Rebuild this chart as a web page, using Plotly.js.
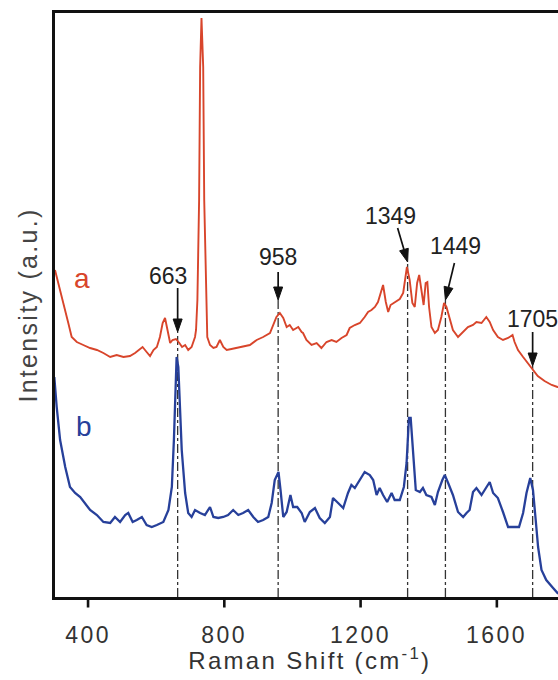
<!DOCTYPE html>
<html>
<head>
<meta charset="utf-8">
<script src="https://cdn.plot.ly/plotly-3.0.1.min.js"></script>
<style>
  html, body { margin: 0; padding: 0; background: #fff; overflow: hidden; width: 558px; height: 680px; }
  #chart { width: 576px; height: 680px; }
  g.annotation[data-index="1"] text, g.annotation[data-index="2"] text,
  g.annotation[data-index="3"] text, g.annotation[data-index="4"] text { letter-spacing: 2.5px; }
  .g-ytitle text, g.annotation[data-index="0"] text { letter-spacing: 2.3px; }
</style>
</head>
<body>
<div id="chart"></div>
<script>
// Raman shift (cm-1) and intensity (a.u., offset spectra)
const redShift = [303,313,328,342,352,367,386,406,426,445,465,484,504,523,538,548,560,572,582,592,602,611,619,626,633,641,648,658,668,676,685,694,704,714,717,721,726,729,733,738,741,746,750,758,768,777,787,797,807,821,836,855,875,895,914,934,943,953,963,973,983,992,1002,1017,1027,1031,1041,1056,1071,1085,1100,1115,1129,1144,1159,1168,1183,1198,1212,1222,1232,1242,1251,1261,1266,1274,1281,1288,1300,1315,1325,1333,1336,1344,1352,1359,1366,1372,1379,1385,1391,1396,1401,1408,1418,1427,1437,1445,1452,1462,1471,1486,1501,1515,1530,1540,1555,1569,1579,1589,1603,1618,1633,1646,1652,1662,1677,1696,1720,1740,1761,1778,1800];
const redIntensity = [327,314,294,274,260,255,252,249,247,244,240,242,240,241,244,247,250,245,241,247,250,260,274,279,267,254,257,258,254,250,252,247,250,260,267,297,397,530,579,530,397,297,260,252,249,250,257,250,247,248,249,250,252,257,260,264,272,280,284,279,270,272,267,270,265,264,257,252,254,249,255,257,255,259,262,269,272,274,280,285,287,290,295,307,312,295,285,292,295,298,304,324,330,317,294,290,314,322,304,292,314,315,290,270,264,267,280,294,290,277,267,260,265,270,272,275,274,280,275,267,260,257,259,262,255,247,240,232,221,216,212,210,208];

const blueShift = [301,308,318,333,347,362,377,391,406,426,445,465,479,494,509,518,531,543,558,572,587,602,621,636,646,652,657,660,665,670,675,685,694,704,714,729,743,758,768,782,797,811,826,841,855,870,885,899,914,929,939,948,959,965,973,983,994,1002,1014,1027,1036,1051,1066,1080,1095,1110,1119,1134,1149,1163,1173,1183,1198,1212,1227,1237,1247,1256,1266,1278,1291,1300,1315,1327,1335,1339,1342,1347,1352,1356,1362,1374,1383,1393,1408,1418,1427,1440,1447,1457,1471,1486,1501,1511,1520,1530,1540,1555,1569,1579,1589,1603,1618,1633,1647,1665,1677,1687,1698,1706,1714,1721,1731,1745,1765,1778,1800];
const blueIntensity = [220,190,157,130,110,104,100,94,87,82,75,74,80,75,82,84,75,77,80,72,70,72,75,87,110,157,207,240,230,190,147,104,84,80,87,84,82,90,80,79,80,82,87,82,84,87,80,75,77,80,94,117,125,107,80,85,102,90,90,84,75,85,89,79,74,80,99,94,89,104,112,109,117,125,122,117,102,109,102,95,104,97,97,110,134,159,179,179,154,130,107,105,109,102,100,92,105,117,122,114,102,85,80,84,87,105,109,102,109,115,104,99,85,70,70,70,84,104,119,107,77,50,27,17,9,4,1];

// Marked bands: label, position of the marker line, intensity of the arrow tip
const peakLabels = ['663','958','1349','1449','1705'];
const peakShift = [663, 958, 1338, 1449, 1705];
const peakTip = [265, 297, 335, 297, 231];

const tickValues = [400, 800, 1200, 1600];
const tickLabels = ['400', '800', '1200', '1600'];
const seriesNames = ['a', 'b'];

const RED = '#d8452b';
const BLUE = '#27409a';
const FONT = 'Liberation Sans';

// arrow tail offsets (px, +y up) and label offsets (px) relative to arrow tips
const arrowTail = [[0,44],[0,28],[-10,34],[9,37],[0,34]];
const labelShift = [[-10,56],[0,43],[-17,46],[10,54],[0,47]];

const traces = [
  {x: redShift, y: redIntensity, type: 'scatter', mode: 'lines', name: seriesNames[0],
   line: {color: RED, width: 1.9}, hoverinfo: 'skip'},
  {x: blueShift, y: blueIntensity, type: 'scatter', mode: 'lines', name: seriesNames[1],
   line: {color: BLUE, width: 2.3}, hoverinfo: 'skip'}
];

const shapes = [];
peakShift.forEach((p, i) => {
  // dash-dot marker line
  shapes.push({type: 'line', xref: 'x', yref: 'y', x0: p, x1: p, y0: 0, y1: peakTip[i],
    line: {color: '#333', width: 1.3, dash: 'dashdot'}, layer: 'below'});
  // arrow shaft + head in pixel units anchored at the tip
  const tx = arrowTail[i][0], ty = arrowTail[i][1];
  const L = Math.hypot(tx, ty), ux = tx / L, uy = ty / L;   // unit vector tip->tail
  const hl = 13, hw = 4.5;                                  // head length / half width
  const bx = ux * hl, by = uy * hl;
  const px = -uy * hw, py = ux * hw;
  shapes.push({type: 'path', xref: 'x', yref: 'y', xsizemode: 'pixel', ysizemode: 'pixel',
    xanchor: p, yanchor: peakTip[i],
    path: `M ${tx},${ty} L ${bx},${by}`, line: {color: '#111', width: 1.7}});
  shapes.push({type: 'path', xref: 'x', yref: 'y', xsizemode: 'pixel', ysizemode: 'pixel',
    xanchor: p, yanchor: peakTip[i],
    path: `M 0,0 L ${bx + px},${by + py} L ${bx - px},${by - py} Z`,
    line: {color: '#111', width: 1}, fillcolor: '#111'});
});

const annotations = [
  // x-axis title (index 0)
  {x: 0.5, y: -0.107, xref: 'paper', yref: 'paper', text: 'Raman Shift (cm<sup>-1</sup>)',
   showarrow: false, xanchor: 'center', yanchor: 'middle',
   font: {family: FONT, size: 24, color: '#333'}}
];
// tick labels (indices 1-4), placed on the x scale
tickValues.forEach((v, i) => {
  annotations.push({x: v, y: -0.065, xref: 'x', yref: 'paper', text: tickLabels[i],
    showarrow: false, xanchor: 'center', yanchor: 'middle',
    font: {family: FONT, size: 23, color: '#333'}});
});
// outside tick marks
tickValues.forEach(v => {
  annotations.push({x: v, y: 0, xref: 'x', yref: 'paper', text: '',
    showarrow: true, arrowhead: 0, arrowwidth: 2.6, arrowcolor: '#111',
    ax: 0, ay: 12, standoff: 0});
});
peakShift.forEach((p, i) => {
  annotations.push({x: p, y: peakTip[i], xref: 'x', yref: 'y', text: peakLabels[i],
    showarrow: false, xshift: labelShift[i][0], yshift: labelShift[i][1],
    font: {family: FONT, size: 23, color: '#222'}, xanchor: 'center', yanchor: 'middle'});
});
annotations.push({x: 382, y: 319, xref: 'x', yref: 'y', text: seriesNames[0], showarrow: false,
  font: {family: FONT, size: 28, color: RED}, xanchor: 'center', yanchor: 'middle'});
annotations.push({x: 388, y: 171, xref: 'x', yref: 'y', text: seriesNames[1], showarrow: false,
  font: {family: FONT, size: 28, color: BLUE}, xanchor: 'center', yanchor: 'middle'});

const layout = {
  width: 576, height: 680,
  margin: {l: 55, r: 11, t: 13, b: 83},
  paper_bgcolor: '#fff', plot_bgcolor: '#fff',
  showlegend: false,
  xaxis: {
    range: [303, 1800], showticklabels: false, ticks: '',
    showline: true, mirror: true, linecolor: '#111', linewidth: 3,
    showgrid: false, zeroline: false
  },
  yaxis: {
    range: [0, 584], showticklabels: false, ticks: '',
    showline: true, mirror: true, linecolor: '#111', linewidth: 3,
    showgrid: false, zeroline: false,
    title: {text: 'Intensity (a.u.)', standoff: 8,
            font: {family: FONT, size: 25, color: '#444'}}
  },
  shapes: shapes,
  annotations: annotations
};

Plotly.newPlot('chart', traces, layout, {staticPlot: true, displayModeBar: false});
</script>
</body>
</html>
